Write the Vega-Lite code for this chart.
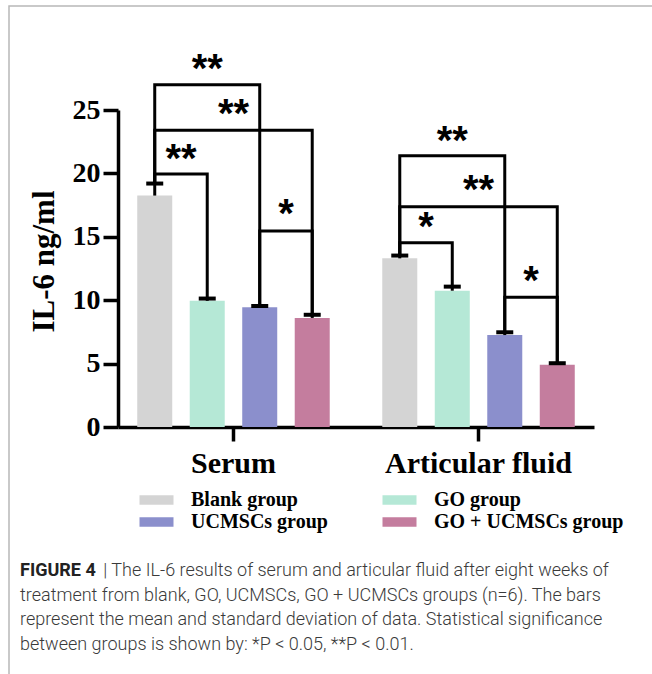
{
  "$schema": "https://vega.github.io/schema/vega-lite/v6.json",
  "width": 643,
  "height": 668,
  "padding": {"left": 9, "top": 6, "right": 0, "bottom": 0},
  "autosize": {"type": "none"},
  "config": {
    "view": {"stroke": "#b8b8b8", "strokeWidth": 1.5, "strokeDash": [643, 1311, 668, 10]},
    "font": "Liberation Serif"
  },
  "datasets": {
    "bars": [
      {"sample": "Serum", "group": "Blank group", "mean": 18.25, "upper": 19.2},
      {"sample": "Serum", "group": "GO group", "mean": 9.95, "upper": 10.13},
      {"sample": "Serum", "group": "UCMSCs group", "mean": 9.45, "upper": 9.55},
      {"sample": "Serum", "group": "GO + UCMSCs group", "mean": 8.6, "upper": 8.85},
      {"sample": "Articular fluid", "group": "Blank group", "mean": 13.3, "upper": 13.52},
      {"sample": "Articular fluid", "group": "GO group", "mean": 10.75, "upper": 11.07},
      {"sample": "Articular fluid", "group": "UCMSCs group", "mean": 7.25, "upper": 7.47},
      {"sample": "Articular fluid", "group": "GO + UCMSCs group", "mean": 4.9, "upper": 5.03}
    ],
    "brackets": [
      {"bracket": "s1", "sample": "Serum", "group": "Blank group", "v": 19.2, "k": 1},
      {"bracket": "s1", "sample": "Serum", "group": "Blank group", "v": 27.0, "k": 2},
      {"bracket": "s1", "sample": "Serum", "group": "UCMSCs group", "v": 27.0, "k": 3},
      {"bracket": "s1", "sample": "Serum", "group": "UCMSCs group", "v": 9.55, "k": 4},
      {"bracket": "s2", "sample": "Serum", "group": "Blank group", "v": 19.2, "k": 1},
      {"bracket": "s2", "sample": "Serum", "group": "Blank group", "v": 23.4, "k": 2},
      {"bracket": "s2", "sample": "Serum", "group": "GO + UCMSCs group", "v": 23.4, "k": 3},
      {"bracket": "s2", "sample": "Serum", "group": "GO + UCMSCs group", "v": 8.85, "k": 4},
      {"bracket": "s3", "sample": "Serum", "group": "Blank group", "v": 19.2, "k": 1},
      {"bracket": "s3", "sample": "Serum", "group": "Blank group", "v": 19.95, "k": 2},
      {"bracket": "s3", "sample": "Serum", "group": "GO group", "v": 19.95, "k": 3},
      {"bracket": "s3", "sample": "Serum", "group": "GO group", "v": 10.13, "k": 4},
      {"bracket": "s4", "sample": "Serum", "group": "UCMSCs group", "v": 9.55, "k": 1},
      {"bracket": "s4", "sample": "Serum", "group": "UCMSCs group", "v": 15.45, "k": 2},
      {"bracket": "s4", "sample": "Serum", "group": "GO + UCMSCs group", "v": 15.45, "k": 3},
      {"bracket": "s4", "sample": "Serum", "group": "GO + UCMSCs group", "v": 8.85, "k": 4},
      {"bracket": "a1", "sample": "Articular fluid", "group": "Blank group", "v": 13.52, "k": 1},
      {"bracket": "a1", "sample": "Articular fluid", "group": "Blank group", "v": 21.4, "k": 2},
      {"bracket": "a1", "sample": "Articular fluid", "group": "UCMSCs group", "v": 21.4, "k": 3},
      {"bracket": "a1", "sample": "Articular fluid", "group": "UCMSCs group", "v": 7.47, "k": 4},
      {"bracket": "a2", "sample": "Articular fluid", "group": "Blank group", "v": 13.52, "k": 1},
      {"bracket": "a2", "sample": "Articular fluid", "group": "Blank group", "v": 17.37, "k": 2},
      {"bracket": "a2", "sample": "Articular fluid", "group": "GO + UCMSCs group", "v": 17.37, "k": 3},
      {"bracket": "a2", "sample": "Articular fluid", "group": "GO + UCMSCs group", "v": 5.03, "k": 4},
      {"bracket": "a3", "sample": "Articular fluid", "group": "Blank group", "v": 13.52, "k": 1},
      {"bracket": "a3", "sample": "Articular fluid", "group": "Blank group", "v": 14.53, "k": 2},
      {"bracket": "a3", "sample": "Articular fluid", "group": "GO group", "v": 14.53, "k": 3},
      {"bracket": "a3", "sample": "Articular fluid", "group": "GO group", "v": 11.07, "k": 4},
      {"bracket": "a4", "sample": "Articular fluid", "group": "UCMSCs group", "v": 7.47, "k": 1},
      {"bracket": "a4", "sample": "Articular fluid", "group": "UCMSCs group", "v": 10.23, "k": 2},
      {"bracket": "a4", "sample": "Articular fluid", "group": "GO + UCMSCs group", "v": 10.23, "k": 3},
      {"bracket": "a4", "sample": "Articular fluid", "group": "GO + UCMSCs group", "v": 5.03, "k": 4}
    ],
    "stars": [
      {"sample": "Serum", "group": "GO group", "v": 28.7, "label": "**", "place": "on"},
      {"sample": "Serum", "group": "GO group", "v": 25.16, "label": "**", "place": "after"},
      {"sample": "Serum", "group": "Blank group", "v": 21.6, "label": "**", "place": "after"},
      {"sample": "Serum", "group": "UCMSCs group", "v": 17.27, "label": "*", "place": "after"},
      {"sample": "Articular fluid", "group": "GO group", "v": 23.03, "label": "**", "place": "on"},
      {"sample": "Articular fluid", "group": "GO group", "v": 19.16, "label": "**", "place": "after"},
      {"sample": "Articular fluid", "group": "Blank group", "v": 16.25, "label": "*", "place": "after"},
      {"sample": "Articular fluid", "group": "UCMSCs group", "v": 11.99, "label": "*", "place": "after"}
    ]
  },
  "title": {
    "text": "FIGURE 4",
    "subtitle": [
      "\u200b\u00a0\u00a0\u00a0\u00a0\u00a0\u00a0\u00a0\u00a0\u00a0\u00a0\u00a0\u00a0\u00a0\u00a0\u00a0\u00a0\u00a0\u00a0\u00a0| The IL-6 results of serum and articular fluid after eight weeks of",
      "treatment from blank, GO, UCMSCs, GO + UCMSCs groups (n=6). The bars",
      "represent the mean and standard deviation of data. Statistical significance",
      "between groups is shown by: *P < 0.05, **P < 0.01."
    ],
    "orient": "bottom",
    "anchor": "start",
    "frame": "group",
    "offset": -112,
    "dx": 11,
    "font": "Roboto",
    "fontSize": 18,
    "fontWeight": "bold",
    "color": "#222222",
    "subtitleFont": "Roboto",
    "subtitleFontSize": 18,
    "subtitleFontWeight": 300,
    "subtitleColor": "#3a3a3a",
    "subtitleLineHeight": 24.5,
    "subtitlePadding": -18
  },
  "encoding": {
    "x": {
      "field": "sample",
      "type": "nominal",
      "sort": ["Serum", "Articular fluid"],
      "scale": {"range": [109, 585], "paddingInner": 0.143, "paddingOuter": 0.0428},
      "axis": {
        "title": null,
        "orient": "bottom",
        "offset": -247,
        "labelAngle": 0,
        "labelLimit": 0,
        "labelFont": "Liberation Serif",
        "labelFontWeight": "bold",
        "labelFontSize": 30,
        "labelColor": "black",
        "labelPadding": 7,
        "domainColor": "black",
        "domainWidth": 3.5,
        "tickColor": "black",
        "tickWidth": 3.5,
        "tickSize": 14
      }
    },
    "xOffset": {
      "field": "group",
      "type": "nominal",
      "sort": ["Blank group", "GO group", "UCMSCs group", "GO + UCMSCs group"],
      "scale": {"paddingInner": 0.3333, "paddingOuter": 0.1667}
    }
  },
  "layer": [
    {
      "data": {"name": "bars"},
      "mark": {"type": "bar", "opacity": 1},
      "encoding": {
        "y": {
          "field": "mean",
          "type": "quantitative",
          "title": "IL-6 ng/ml",
          "scale": {"domain": [0, 25], "range": [421, 104], "nice": false},
          "axis": {
            "values": [0, 5, 10, 15, 20, 25],
            "offset": -109,
            "grid": false,
            "labelFont": "Liberation Serif",
            "labelFontWeight": "bold",
            "labelFontSize": 28,
            "labelColor": "black",
            "labelPadding": 3,
            "domainColor": "black",
            "domainWidth": 3.5,
            "tickColor": "black",
            "tickWidth": 3.5,
            "tickSize": 15,
            "titleFont": "Liberation Serif",
            "titleFontWeight": "bold",
            "titleFontSize": 31,
            "titleColor": "black",
            "titlePadding": 12,
            "titleY": 255
          }
        },
        "color": {
          "field": "group",
          "type": "nominal",
          "sort": ["Blank group", "UCMSCs group", "GO group", "GO + UCMSCs group"],
          "scale": {
            "domain": ["Blank group", "UCMSCs group", "GO group", "GO + UCMSCs group"],
            "range": ["#d4d4d4", "#8b8fcc", "#b5e8d6", "#c47d9e"]
          },
          "legend": {
            "title": null,
            "orient": "none",
            "legendX": 137.5,
            "legendY": 484,
            "columns": 2,
            "padding": 0,
            "symbolType": "M-2,-0.55H2V0.55H-2Z",
            "symbolSize": 289,
            "symbolStrokeWidth": 0,
            "symbolOpacity": 1,
            "labelFont": "Liberation Serif",
            "labelFontWeight": "bold",
            "labelFontSize": 20,
            "labelColor": "black",
            "labelLimit": 0,
            "labelOffset": 24.5,
            "columnPadding": 54,
            "rowPadding": 2
          }
        }
      }
    },
    {
      "data": {"name": "bars"},
      "mark": {"type": "rule", "color": "black", "strokeWidth": 3},
      "encoding": {
        "y": {"field": "mean", "type": "quantitative", "title": "IL-6 ng/ml"},
        "y2": {"field": "upper"}
      }
    },
    {
      "data": {"name": "bars"},
      "mark": {"type": "tick", "color": "black", "thickness": 4, "size": 17, "opacity": 1},
      "encoding": {
        "y": {"field": "upper", "type": "quantitative", "title": "IL-6 ng/ml"}
      }
    },
    {
      "data": {"name": "brackets"},
      "mark": {"type": "line", "color": "black", "strokeWidth": 3, "strokeJoin": "miter", "strokeCap": "square"},
      "encoding": {
        "y": {"field": "v", "type": "quantitative", "title": "IL-6 ng/ml"},
        "detail": {"field": "bracket"},
        "order": {"field": "k"}
      }
    },
    {
      "data": {"name": "stars"},
      "transform": [{"filter": "datum.place == 'on'"}],
      "mark": {"type": "text", "font": "Liberation Sans", "fontWeight": "bold", "fontSize": 40, "color": "black", "baseline": "middle", "dy": 7},
      "encoding": {
        "y": {"field": "v", "type": "quantitative", "title": "IL-6 ng/ml"},
        "text": {"field": "label"}
      }
    },
    {
      "data": {"name": "stars"},
      "transform": [{"filter": "datum.place == 'after'"}],
      "mark": {"type": "text", "font": "Liberation Sans", "fontWeight": "bold", "fontSize": 40, "color": "black", "baseline": "middle", "dy": 7, "dx": 26.25},
      "encoding": {
        "y": {"field": "v", "type": "quantitative", "title": "IL-6 ng/ml"},
        "text": {"field": "label"}
      }
    }
  ]
}
